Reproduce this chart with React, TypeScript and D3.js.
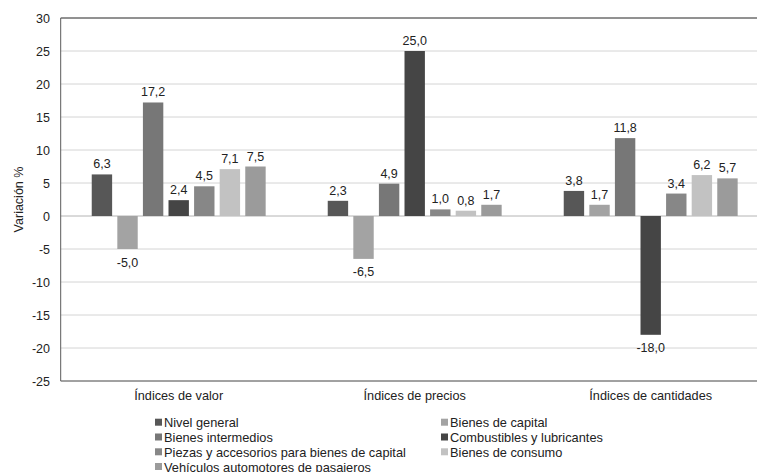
import { useMemo } from "react";
import * as d3 from "d3";

const categories = ["Índices de valor", "Índices de precios", "Índices de cantidades"];
const seriesNames = [
  "Nivel general",
  "Bienes de capital",
  "Bienes intermedios",
  "Combustibles y lubricantes",
  "Piezas y accesorios para bienes de capital",
  "Bienes de consumo",
  "Vehículos automotores de pasajeros",
];
const seriesColors = ["#575757", "#a3a3a3", "#777777", "#454545", "#878787", "#c2c2c2", "#9b9b9b"];
// values[series][category]
const values = [
  [6.3, 2.3, 3.8],
  [-5.0, -6.5, 1.7],
  [17.2, 4.9, 11.8],
  [2.4, 25.0, -18.0],
  [4.5, 1.0, 3.4],
  [7.1, 0.8, 6.2],
  [7.5, 1.7, 5.7],
];
const yTicks = [30, 25, 20, 15, 10, 5, 0, -5, -10, -15, -20, -25];

const W = 757;
const H = 472;
const FONT = "'Liberation Sans', Arial, sans-serif";

export default function App() {
  const margin = { top: 18, left: 60.7, bottom: 381 };
  const plotRight = 768.7;

  const y = useMemo(() => d3.scaleLinear().domain([-25, 30]).range([margin.bottom, margin.top]), []);
  const x0 = useMemo(
    () => d3.scaleBand<string>().domain(categories).range([margin.left, plotRight]).paddingInner(0.263).paddingOuter(0.1315),
    []
  );
  const x1 = useMemo(
    () => d3.scaleBand<number>().domain(d3.range(seriesNames.length)).range([0, x0.bandwidth()]).paddingInner(0.203),
    [x0]
  );
  const fmt = (v: number) => v.toFixed(1).replace(".", ",");

  // legend layout: two columns
  const legendCols = [155, 441];
  const legendRowY = [422.7, 437.5, 452.3, 467];

  return (
    <svg width={W} height={H} style={{ position: "absolute", left: 0, top: 0, background: "#fff" }} fontFamily={FONT}>
      <rect x={0} y={0} width={W} height={H} fill="#fff" />
      {/* gridlines */}
      {yTicks.map((t) => (
        <line key={t} x1={margin.left} x2={plotRight} y1={y(t)} y2={y(t)} stroke={t === 0 ? "#b4b4b4" : "#d4d4d4"} strokeWidth={1} />
      ))}
      {/* top border and bottom axis */}
      <line x1={margin.left} x2={plotRight} y1={y(30)} y2={y(30)} stroke="#3a3a3a" strokeWidth={1} />
      <line x1={margin.left} x2={plotRight} y1={y(-25)} y2={y(-25)} stroke="#5a5a5a" strokeWidth={1} />
      <line x1={margin.left} x2={margin.left} y1={y(30)} y2={y(-25)} stroke="#5a5a5a" strokeWidth={1} />
      {/* y tick labels */}
      {yTicks.map((t) => (
        <text key={t} x={50} y={y(t) + 4.5} textAnchor="end" fontSize={12.5} fill="#222">
          {t}
        </text>
      ))}
      <text transform={`translate(23, ${(margin.top + margin.bottom) / 2}) rotate(-90)`} textAnchor="middle" fontSize={12.5} fill="#222">
        Variación %
      </text>
      {/* bars */}
      {categories.map((c, ci) => (
        <g key={c} transform={`translate(${x0(c)},0)`}>
          {values.map((vals, si) => {
            const v = vals[ci];
            const top = y(Math.max(0, v));
            const bot = y(Math.min(0, v));
            const bx = x1(si)!;
            return (
              <g key={si}>
                <rect x={bx} y={top} width={x1.bandwidth()} height={bot - top} fill={seriesColors[si]} />
                <text
                  x={bx + x1.bandwidth() / 2}
                  y={v >= 0 ? top - 6 : bot + 17.5}
                  textAnchor="middle"
                  fontSize={12.5}
                  fill="#222"
                >
                  {fmt(v)}
                </text>
              </g>
            );
          })}
          <text x={x0.bandwidth() / 2} y={400} textAnchor="middle" fontSize={12.7} fill="#222">
            {c}
          </text>
        </g>
      ))}
      {/* legend */}
      {seriesNames.map((name, i) => {
        const col = i % 2;
        const row = Math.floor(i / 2);
        const lx = legendCols[col];
        const ly = legendRowY[row];
        return (
          <g key={name}>
            <rect x={lx} y={ly - 4} width={7} height={7} fill={seriesColors[i]} />
            <text x={lx + 9} y={ly + 4.5} fontSize={12.8} fill="#222">
              {name}
            </text>
          </g>
        );
      })}
    </svg>
  );
}
